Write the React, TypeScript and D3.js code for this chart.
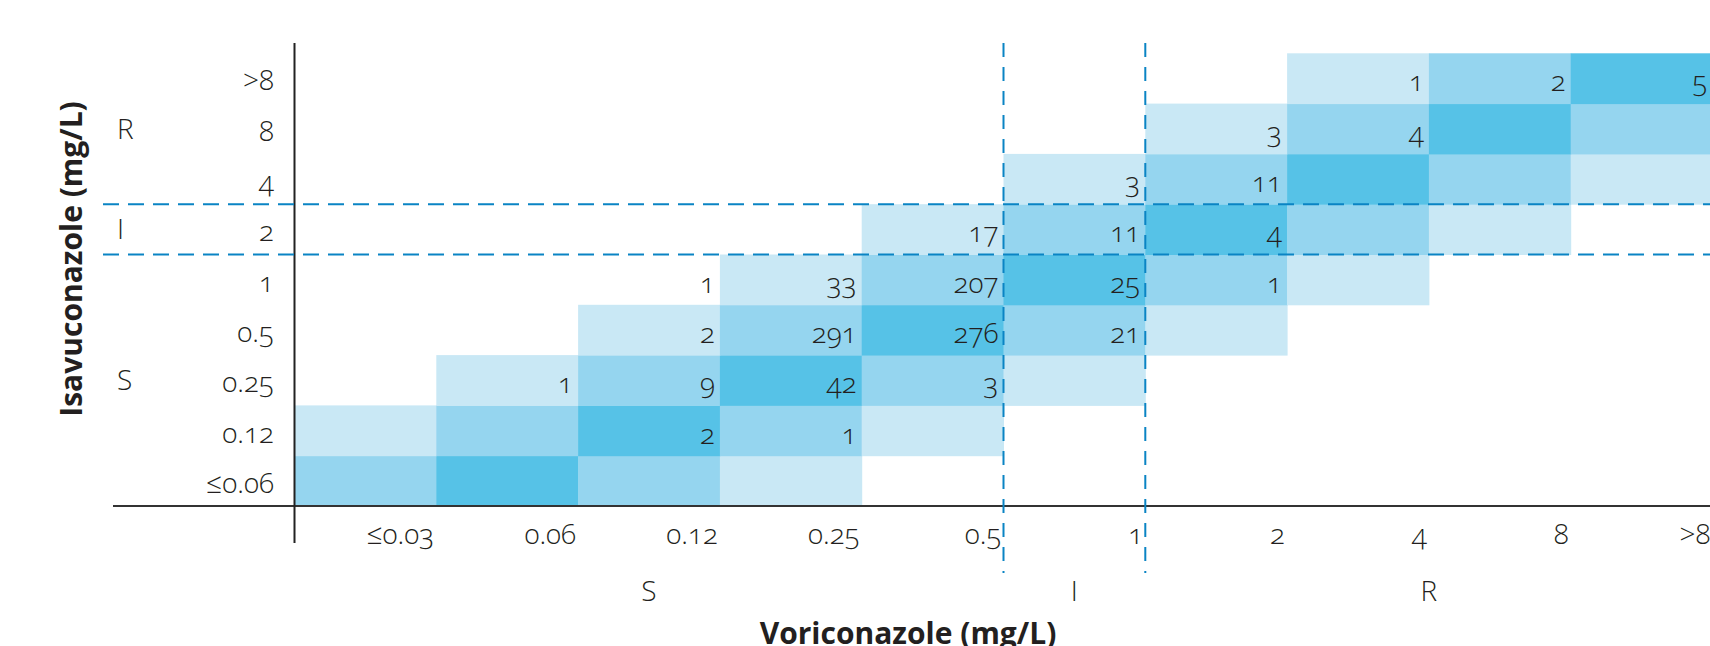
import React from 'react';
import * as d3 from 'd3';

// voriconazole MIC levels (columns) and isavuconazole MIC levels (rows, bottom to top)
const voriLevels = ['≤0.03', '0.06', '0.12', '0.25', '0.5', '1', '2', '4', '8', '>8'];
const isavLevels = ['≤0.06', '0.12', '0.25', '0.5', '1', '2', '4', '8', '>8'];

// shading band per isavuconazole row: 0 none, 1 light, 2 medium, 3 dark
const shadeLevels = [
  [2, 3, 2, 1, 0, 0, 0, 0, 0, 0],
  [1, 2, 3, 2, 1, 0, 0, 0, 0, 0],
  [0, 1, 2, 3, 2, 1, 0, 0, 0, 0],
  [0, 0, 1, 2, 3, 2, 1, 0, 0, 0],
  [0, 0, 0, 1, 2, 3, 2, 1, 0, 0],
  [0, 0, 0, 0, 1, 2, 3, 2, 1, 0],
  [0, 0, 0, 0, 0, 1, 2, 3, 2, 1],
  [0, 0, 0, 0, 0, 0, 1, 2, 3, 2],
  [0, 0, 0, 0, 0, 0, 0, 1, 2, 3],
];

// isolate counts per isavuconazole row
const counts: (number | null)[][] = [
  [null, null, null, null, null, null, null, null, null, null],
  [null, null, 2, 1, null, null, null, null, null, null],
  [null, 1, 9, 42, 3, null, null, null, null, null],
  [null, null, 2, 291, 276, 21, null, null, null, null],
  [null, null, 1, 33, 207, 25, 1, null, null, null],
  [null, null, null, null, 17, 11, 4, null, null, null],
  [null, null, null, null, null, 3, 11, null, null, null],
  [null, null, null, null, null, null, 3, 4, null, null],
  [null, null, null, null, null, null, null, 1, 2, 5],
];

const voriGroups = [
  { label: 'S', first: '≤0.03', last: '0.5' },
  { label: 'I', first: '1', last: '1' },
  { label: 'R', first: '2', last: '>8' },
];
const isavGroups = [
  { label: 'S', first: '≤0.06', last: '1' },
  { label: 'I', first: '2', last: '2' },
  { label: 'R', first: '4', last: '>8' },
];

const W = 1710;
const H = 646;
const ink = '#231f20';
const dashBlue = '#0a84c4';
const font = '"Open Sans", "DejaVu Sans", sans-serif';
const fs = 28;
const fw = 350;

export default function App() {
  const x = d3.scaleBand<string>().domain(voriLevels).range([294.5, 1712.5]);
  const y = d3.scaleBand<string>().domain(isavLevels).range([506, 53.3]);
  const bw = x.bandwidth();
  const bh = y.bandwidth();
  const shade = d3.scaleOrdinal<number, string>().domain([1, 2, 3]).range(['#c9e8f5', '#95d5ef', '#56c2e7']);

  const axisY = y('≤0.06')! + bh;
  const axisX = x('≤0.03')!;

  const numStyle: React.CSSProperties = { fontVariantNumeric: 'oldstyle-nums' };

  return (
    <svg width={W} height={H} style={{ position: 'absolute', left: 0, top: 0, background: '#fff', overflow: 'hidden' }}
      fontFamily={font}>
      {/* cells */}
      {isavLevels.map((iv, r) =>
        voriLevels.map((vv, c) =>
          shadeLevels[r][c] > 0 ? (
            <rect key={`c${r}-${c}`} x={x(vv)} y={y(iv)} width={bw + 0.5} height={bh + 0.5}
              fill={shade(shadeLevels[r][c])} />
          ) : null
        )
      )}

      {/* counts */}
      {isavLevels.map((iv, r) =>
        voriLevels.map((vv, c) =>
          counts[r][c] != null ? (
            <text key={`n${r}-${c}`} x={x(vv)! + bw - 5} y={y(iv)! + bh / 2 + 13} textAnchor="end"
              fontSize={fs} fontWeight={fw} fill={ink} style={numStyle}>{counts[r][c]}</text>
          ) : null
        )
      )}

      {/* axes */}
      <line x1={113} x2={W} y1={axisY} y2={axisY} stroke="#333" strokeWidth={2} />
      <line x1={axisX} x2={axisX} y1={43} y2={543} stroke="#222" strokeWidth={2} />

      {/* breakpoint dashed lines */}
      {isavGroups.slice(1).map(g => (
        <line key={`h${g.label}`} x1={103} x2={W} y1={y(g.first)! + bh} y2={y(g.first)! + bh}
          stroke={dashBlue} strokeWidth={2} strokeDasharray="16,9" />
      ))}
      {voriGroups.slice(1).map(g => (
        <line key={`v${g.label}`} x1={x(g.first)} x2={x(g.first)} y1={43} y2={573}
          stroke={dashBlue} strokeWidth={2} strokeDasharray="14,10" />
      ))}

      {/* y tick labels */}
      {isavLevels.map(iv => (
        <text key={`yt${iv}`} x={274} y={y(iv)! + bh / 2 + 12} textAnchor="end" fontSize={fs}
          fontWeight={fw} fill={ink} style={numStyle}>{iv}</text>
      ))}
      {/* x tick labels */}
      {voriLevels.map(vv => (
        <text key={`xt${vv}`} x={x(vv)! + bw - 2} y={544} textAnchor="end" fontSize={fs}
          fontWeight={fw} fill={ink} style={numStyle}>{vv}</text>
      ))}

      {/* group labels */}
      {isavGroups.map(g => {
        const top = y(g.last)!;
        const bottom = y(g.first)! + bh;
        return (
          <text key={`yg${g.label}`} x={117} y={(top + bottom) / 2 + 10} fontSize={fs} fontWeight={fw}
            fill={ink}>{g.label}</text>
        );
      })}
      {voriGroups.map(g => {
        const left = x(g.first)!;
        const right = x(g.last)! + bw;
        return (
          <text key={`xg${g.label}`} x={(left + right) / 2} y={601} textAnchor="middle" fontSize={fs}
            fontWeight={fw} fill={ink}>{g.label}</text>
        );
      })}

      {/* titles */}
      <text x={908} y={644} textAnchor="middle" fontSize={30} fontWeight={700} fill={ink}>Voriconazole (mg/L)</text>
      <text transform="translate(82,259) rotate(-90)" textAnchor="middle" fontSize={30} fontWeight={700}
        fill={ink}>Isavuconazole (mg/L)</text>
    </svg>
  );
}
